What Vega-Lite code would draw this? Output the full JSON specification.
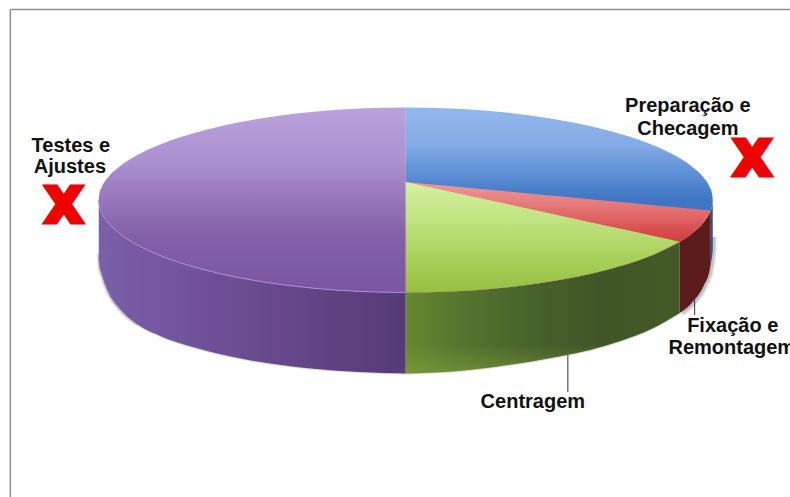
{
  "$schema": "https://vega.github.io/schema/vega-lite/v6.json",
  "width": 790,
  "height": 497,
  "padding": 0,
  "autosize": {"type": "none"},
  "background": "#ffffff",
  "config": {"view": {"stroke": null}},
  "datasets": {
    "halfDiscLeft": [
      {"x": -100, "y": 0, "y2": 0}, {"x": -99.8, "y": 6.32, "y2": -6.32}, {"x": -99, "y": 14.11, "y2": -14.11},
      {"x": -97, "y": 24.31, "y2": -24.31}, {"x": -93, "y": 36.75, "y2": -36.75}, {"x": -88, "y": 47.5, "y2": -47.5},
      {"x": -80, "y": 60, "y2": -60}, {"x": -70, "y": 71.41, "y2": -71.41}, {"x": -60, "y": 80, "y2": -80},
      {"x": -50, "y": 86.6, "y2": -86.6}, {"x": -40, "y": 91.65, "y2": -91.65}, {"x": -30, "y": 95.39, "y2": -95.39},
      {"x": -15, "y": 98.87, "y2": -98.87}, {"x": 0, "y": 100, "y2": -100}
    ],
    "halfDiscRight": [
      {"x": 0, "y": 100, "y2": -100}, {"x": 15, "y": 98.87, "y2": -98.87}, {"x": 30, "y": 95.39, "y2": -95.39},
      {"x": 40, "y": 91.65, "y2": -91.65}, {"x": 50, "y": 86.6, "y2": -86.6}, {"x": 60, "y": 80, "y2": -80},
      {"x": 70, "y": 71.41, "y2": -71.41}, {"x": 80, "y": 60, "y2": -60}, {"x": 88, "y": 47.5, "y2": -47.5},
      {"x": 93, "y": 36.75, "y2": -36.75}, {"x": 97, "y": 24.31, "y2": -24.31}, {"x": 99, "y": 14.11, "y2": -14.11},
      {"x": 99.8, "y": 6.32, "y2": -6.32}, {"x": 100, "y": 0, "y2": 0}
    ],
    "redFace": [
      {"x": 0, "y": 19.46, "y2": -100}, {"x": 15, "y": 14.8, "y2": -98.87}, {"x": 30, "y": 10.14, "y2": -95.39},
      {"x": 40, "y": 7.04, "y2": -91.65}, {"x": 50, "y": 3.93, "y2": -86.6}, {"x": 60, "y": 0.82, "y2": -80},
      {"x": 70, "y": -2.28, "y2": -71.41}, {"x": 80, "y": -5.39, "y2": -60}, {"x": 88, "y": -7.87, "y2": -47.5},
      {"x": 93, "y": -9.43, "y2": -36.75}, {"x": 97, "y": -10.67, "y2": -24.31}, {"x": 99, "y": -11.29, "y2": -14.11},
      {"x": 99.35, "y": -11.4, "y2": -11.4}
    ],
    "greenFace": [
      {"x": 0, "y": 19.46, "y2": -100}, {"x": 15, "y": 8.61, "y2": -98.87}, {"x": 30, "y": -2.24, "y2": -95.39},
      {"x": 40, "y": -9.48, "y2": -91.65}, {"x": 50, "y": -16.71, "y2": -86.6}, {"x": 60, "y": -23.94, "y2": -80},
      {"x": 70, "y": -31.18, "y2": -71.41}, {"x": 80, "y": -38.41, "y2": -60}, {"x": 89.25, "y": -45.1, "y2": -45.1}
    ],
    "purpleWall": [
      {"x": -100, "y": 0, "y2": -62.7}, {"x": -99.8, "y": -6.32, "y2": -69.2}, {"x": -99, "y": -14.11, "y2": -80},
      {"x": -97, "y": -24.31, "y2": -98.4}, {"x": -93, "y": -36.75, "y2": -117.8}, {"x": -88, "y": -47.5, "y2": -133},
      {"x": -80, "y": -60, "y2": -147}, {"x": -70, "y": -71.41, "y2": -158.4}, {"x": -60, "y": -80, "y2": -167.1},
      {"x": -50, "y": -86.6, "y2": -173.7}, {"x": -40, "y": -91.65, "y2": -178.7}, {"x": -30, "y": -95.39, "y2": -182.5},
      {"x": -15, "y": -98.87, "y2": -186}, {"x": 0, "y": -100, "y2": -187.6}
    ],
    "greenWall": [
      {"x": 0, "y": -100, "y2": -187.6}, {"x": 15, "y": -98.87, "y2": -185.4}, {"x": 30, "y": -95.39, "y2": -180},
      {"x": 40, "y": -91.65, "y2": -175.1}, {"x": 50, "y": -86.6, "y2": -169.2}, {"x": 60, "y": -80, "y2": -162.2},
      {"x": 70, "y": -71.41, "y2": -152.4}, {"x": 80, "y": -60, "y2": -139.5}, {"x": 89.25, "y": -45.1, "y2": -122.2}
    ],
    "redWall": [
      {"x": 89.25, "y": -45.1, "y2": -122.2}, {"x": 93, "y": -36.75, "y2": -111.9}, {"x": 97, "y": -24.31, "y2": -93},
      {"x": 99, "y": -14.11, "y2": -75.7}, {"x": 99.35, "y": -11.4, "y2": -69}
    ],
    "blueWall": [
      {"x": 99.35, "y": -11.4, "y2": -69}, {"x": 99.8, "y": -6.32, "y2": -60}, {"x": 100, "y": 0, "y2": -54}
    ],
    "shadowEnds": [
      {"side": "left", "x": -99.6, "y": -58}, {"side": "left", "x": -99.4, "y": -72}, {"side": "left", "x": -98.6, "y": -82},
      {"side": "left", "x": -96.6, "y": -100}, {"side": "left", "x": -92.6, "y": -118.8}, {"side": "left", "x": -87, "y": -134},
      {"side": "right", "x": 90, "y": -122}, {"side": "right", "x": 93.4, "y": -112.4}, {"side": "right", "x": 97.4, "y": -93},
      {"side": "right", "x": 99.4, "y": -74}, {"side": "right", "x": 100.2, "y": -54}, {"side": "right", "x": 100.3, "y": -40}
    ],
    "labels": [
      {"text": "Testes e", "x": -109.1, "y": 51.9},
      {"text": "Ajustes", "x": -109.4, "y": 29.2},
      {"text": "Preparação e", "x": 91.9, "y": 95.1},
      {"text": "Checagem", "x": 91.9, "y": 70.3},
      {"text": "Fixação e", "x": 106.5, "y": -142.7},
      {"text": "Remontagem", "x": 106.2, "y": -166.5},
      {"text": "Centragem", "x": 41.4, "y": -224.9}
    ],
    "crosses": [
      {"text": "X", "x": -111.4, "y": -24.3},
      {"text": "X", "x": 112.9, "y": 26.5}
    ],
    "leaders": [
      {"x": 52.8, "y": -167.6, "y2": -207.6},
      {"x": 94.1, "y": -108.1, "y2": -124.3}
    ],
    "frameLeft": [{"x": -128.8, "y": 205.9, "y2": -321}],
    "frameTop": [{"x": -128.8, "x2": 125.16, "y": 205.9}]
  },
  "encoding": {
    "x": {"field": "x", "type": "quantitative", "axis": null, "scale": {"domain": [-132.17, 125.16], "nice": false, "zero": false}},
    "y": {"field": "y", "type": "quantitative", "axis": null, "scale": {"domain": [-321.08, 216.22], "nice": false, "zero": false}}
  },
  "layer": [
    {
      "data": {"name": "frameLeft"},
      "mark": {"type": "rule", "color": "#8f8f8f", "strokeWidth": 1.5},
      "encoding": {"y2": {"field": "y2"}}
    },
    {
      "data": {"name": "frameTop"},
      "mark": {"type": "rule", "color": "#8f8f8f", "strokeWidth": 1.5},
      "encoding": {"x2": {"field": "x2"}}
    },
    {
      "data": {"name": "shadowEnds"},
      "mark": {"type": "line", "color": "#6f6f6f", "strokeWidth": 7, "opacity": 0.12, "interpolate": "monotone"},
      "encoding": {"detail": {"field": "side"}}
    },
    {
      "data": {"name": "shadowEnds"},
      "mark": {"type": "line", "color": "#6f6f6f", "strokeWidth": 5, "opacity": 0.16, "interpolate": "monotone"},
      "encoding": {"detail": {"field": "side"}}
    },
    {
      "data": {"name": "shadowEnds"},
      "mark": {"type": "line", "color": "#6f6f6f", "strokeWidth": 3, "opacity": 0.2, "interpolate": "monotone"},
      "encoding": {"detail": {"field": "side"}}
    },
    {
      "data": {"name": "purpleWall"},
      "mark": {"type": "line", "color": "#8a8a8a", "strokeWidth": 2, "opacity": 0.3, "interpolate": "monotone"},
      "encoding": {"y": {"field": "y2", "type": "quantitative"}}
    },
    {
      "data": {"name": "greenWall"},
      "mark": {"type": "line", "color": "#8a8a8a", "strokeWidth": 2, "opacity": 0.3, "interpolate": "monotone"},
      "encoding": {"y": {"field": "y2", "type": "quantitative"}}
    },
    {
      "data": {"name": "purpleWall"},
      "mark": {"type": "area", "orient": "vertical", "interpolate": "monotone", "fill": {"gradient": "linear", "x1": 0, "y1": 0, "x2": 1, "y2": 0, "stops": [
        {"offset": 0, "color": "#7c5fa9"}, {"offset": 0.3, "color": "#71529c"}, {"offset": 0.7, "color": "#624584"}, {"offset": 1, "color": "#553b77"}
      ]}},
      "encoding": {"y2": {"field": "y2"}}
    },
    {
      "data": {"name": "greenWall"},
      "mark": {"type": "area", "orient": "vertical", "interpolate": "monotone", "fill": {"gradient": "linear", "x1": 0, "y1": 0, "x2": 1, "y2": 0, "stops": [
        {"offset": 0, "color": "#67882f"}, {"offset": 0.2, "color": "#567530"}, {"offset": 0.5, "color": "#46602a"}, {"offset": 0.72, "color": "#3f5626"}, {"offset": 1, "color": "#445b27"}
      ]}},
      "encoding": {"y2": {"field": "y2"}}
    },
    {
      "data": {"name": "greenWall"},
      "mark": {"type": "area", "orient": "vertical", "interpolate": "monotone", "fill": {"gradient": "linear", "x1": 0, "y1": 0, "x2": 0, "y2": 1, "stops": [
        {"offset": 0, "color": "rgba(141,176,63,0)"}, {"offset": 0.78, "color": "rgba(141,176,63,0)"}, {"offset": 1, "color": "rgba(141,176,63,0.4)"}
      ]}},
      "encoding": {"y2": {"field": "y2"}}
    },
    {
      "data": {"name": "redWall"},
      "mark": {"type": "area", "orient": "vertical", "interpolate": "monotone", "fill": "#5d1c1c"},
      "encoding": {"y2": {"field": "y2"}}
    },
    {
      "data": {"name": "blueWall"},
      "mark": {"type": "area", "orient": "vertical", "interpolate": "monotone", "fill": "#2d4f80"},
      "encoding": {"y2": {"field": "y2"}}
    },
    {
      "data": {"name": "halfDiscLeft"},
      "mark": {"type": "area", "orient": "vertical", "interpolate": "monotone", "fill": {"gradient": "linear", "x1": 0, "y1": 0, "x2": 0, "y2": 1, "stops": [
        {"offset": 0, "color": "#b9a2dc"}, {"offset": 0.3, "color": "#aa90cf"}, {"offset": 0.5, "color": "#9676b9"}, {"offset": 0.69, "color": "#8360a8"}, {"offset": 1, "color": "#7a56a3"}
      ]}},
      "encoding": {"y2": {"field": "y2"}}
    },
    {
      "data": {"name": "halfDiscRight"},
      "mark": {"type": "area", "orient": "vertical", "interpolate": "monotone", "fill": {"gradient": "linear", "x1": 0, "y1": 0, "x2": 0, "y2": 1, "stops": [
        {"offset": 0, "color": "#92b7ec"}, {"offset": 0.2, "color": "#84abe5"}, {"offset": 0.35, "color": "#5f91d6"}, {"offset": 0.5, "color": "#3f75c2"}, {"offset": 1, "color": "#3f75c2"}
      ]}},
      "encoding": {"y2": {"field": "y2"}}
    },
    {
      "data": {"name": "redFace"},
      "mark": {"type": "area", "orient": "vertical", "interpolate": "monotone", "fill": {"gradient": "linear", "x1": 0, "y1": 0, "x2": 0, "y2": 1, "stops": [
        {"offset": 0, "color": "#ee9a9a"}, {"offset": 0.2, "color": "#e57a7a"}, {"offset": 0.54, "color": "#d43c3c"}, {"offset": 1, "color": "#d43c3c"}
      ]}},
      "encoding": {"y2": {"field": "y2"}}
    },
    {
      "data": {"name": "greenFace"},
      "mark": {"type": "area", "orient": "vertical", "interpolate": "monotone", "fill": {"gradient": "linear", "x1": 0, "y1": 0, "x2": 0, "y2": 1, "stops": [
        {"offset": 0, "color": "#d5f09e"}, {"offset": 0.35, "color": "#bfe37f"}, {"offset": 0.7, "color": "#a8cf58"}, {"offset": 1, "color": "#97bf42"}
      ]}},
      "encoding": {"y2": {"field": "y2"}}
    },
    {
      "data": {"name": "purpleWall"},
      "mark": {"type": "line", "color": "#a78fd2", "strokeWidth": 1, "interpolate": "monotone"}
    },
    {
      "data": {"name": "leaders"},
      "mark": {"type": "rule", "color": "#333333", "strokeWidth": 1},
      "encoding": {"y2": {"field": "y2"}}
    },
    {
      "data": {"name": "crosses"},
      "mark": {"type": "text", "font": "DejaVu Sans", "fontWeight": "bold", "fontSize": 48, "baseline": "alphabetic", "align": "center", "fill": "#f00000", "stroke": "#f00000", "strokeWidth": 5},
      "encoding": {"text": {"field": "text"}}
    },
    {
      "data": {"name": "labels"},
      "mark": {"type": "text", "font": "Liberation Sans", "fontWeight": "bold", "fontSize": 20, "baseline": "alphabetic", "align": "center", "color": "#111111"},
      "encoding": {"text": {"field": "text"}}
    }
  ]
}
